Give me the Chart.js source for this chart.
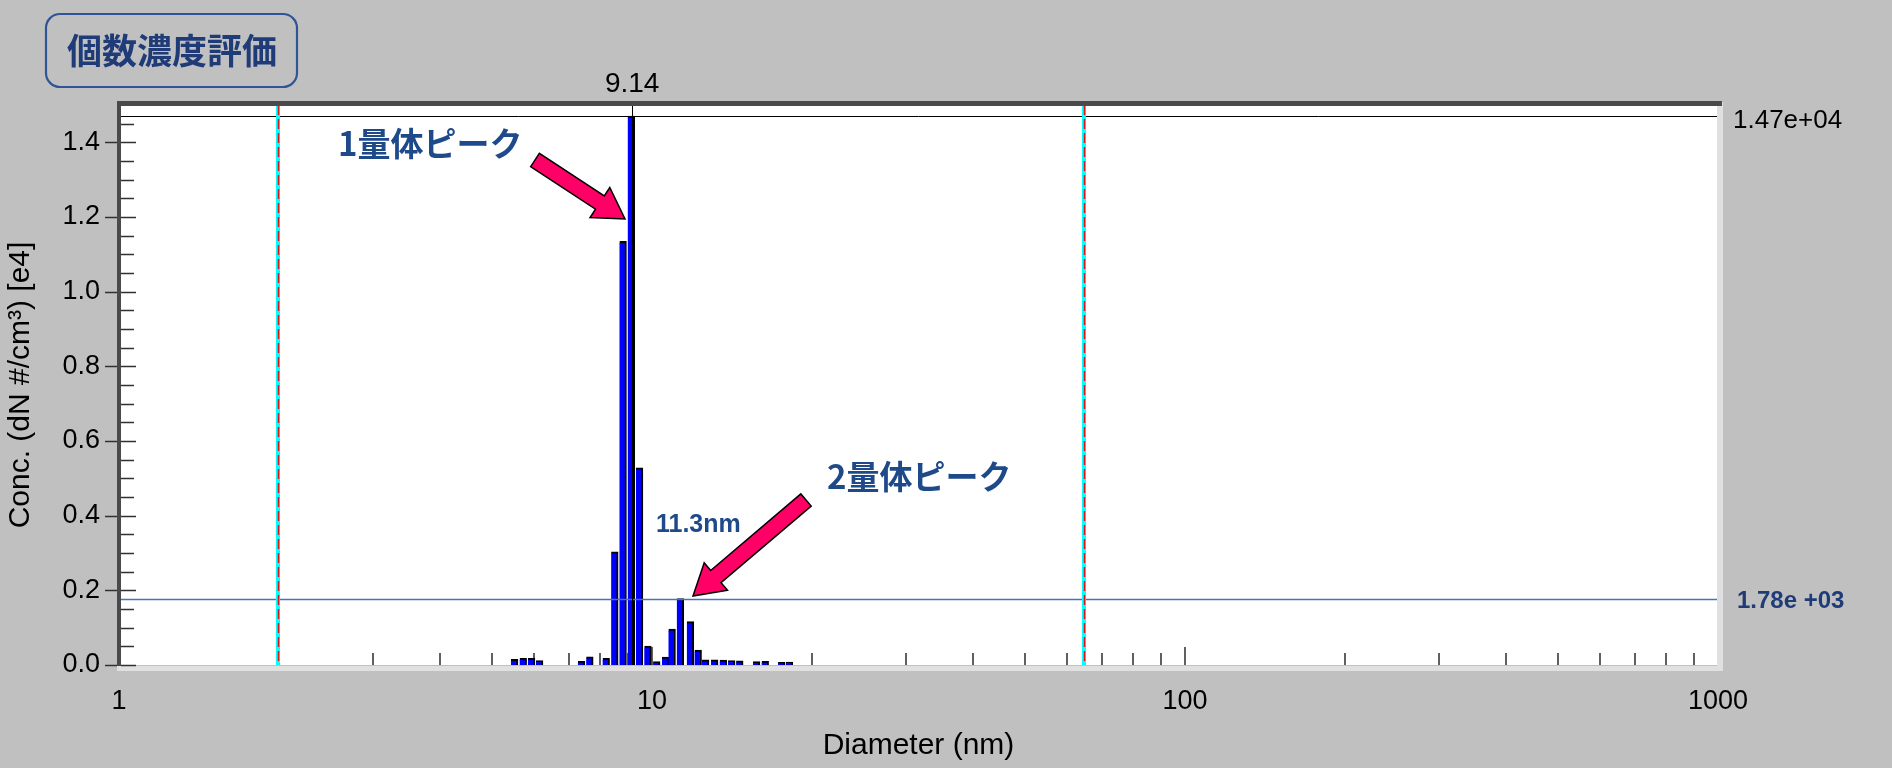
<!DOCTYPE html>
<html><head><meta charset="utf-8">
<script src="https://cdn.jsdelivr.net/npm/chart.js@4.4.1/dist/chart.umd.min.js"></script>
<style>html,body{margin:0;padding:0;background:#c0c0c0;overflow:hidden}canvas{display:block}</style>
</head><body>
<canvas id="c" width="1892" height="768"></canvas>
<script>
// ---- data ----
const diameters = [5.52,5.73,5.94,6.15,7.37,7.64,8.20,8.51,8.82,9.14,9.47,9.82,10.2,10.6,10.9,11.3,11.8,12.2,12.6,13.1,13.6,14.1,14.6,15.7,16.3,17.5,18.1];
const concE4    = [0.015,0.018,0.018,0.012,0.010,0.022,0.018,0.303,1.135,1.47,0.528,0.051,0.009,0.021,0.096,0.178,0.116,0.040,0.014,0.014,0.013,0.012,0.011,0.009,0.010,0.007,0.008];
const xTickLabels = [1,10,100,1000];
const xMinorTicks = [2,3,4,5,6,7,8,9,20,30,40,50,60,70,80,90,200,300,400,500,600,700,800,900];
const yTickValues = [0,0.2,0.4,0.6,0.8,1.0,1.2,1.4];
const yMinorTicks = [0.05,0.1,0.15,0.25,0.3,0.35,0.45,0.5,0.55,0.65,0.7,0.75,0.85,0.9,0.95,1.05,1.1,1.15,1.25,1.3,1.35,1.45];
const cursorDiameter = [9.14];
const rangeDiameters = [2.0, 65];
const peakLevel = [1.47];
const thresholdLevel = [0.178];
const peakLabel = ['9.14'];
const peakLevelLabel = ['1.47e+04'];
const thresholdLabel = ['1.78e +03'];

Chart.defaults.font.family = "'Liberation Sans', Arial, sans-serif";
Chart.defaults.color = '#000';

function arrow(ctx, x0, y0, x1, y1, shaftW, headW, headL) {
  const dx = x1 - x0, dy = y1 - y0, len = Math.hypot(dx, dy);
  const ux = dx / len, uy = dy / len, px = -uy, py = ux;
  const bx = x1 - ux * headL, by = y1 - uy * headL;
  const pts = [
    [x0 + px * shaftW / 2, y0 + py * shaftW / 2],
    [bx + px * shaftW / 2, by + py * shaftW / 2],
    [bx + px * headW / 2, by + py * headW / 2],
    [x1, y1],
    [bx - px * headW / 2, by - py * headW / 2],
    [bx - px * shaftW / 2, by - py * shaftW / 2],
    [x0 - px * shaftW / 2, y0 - py * shaftW / 2]
  ];
  ctx.beginPath();
  pts.forEach((p, i) => i ? ctx.lineTo(p[0], p[1]) : ctx.moveTo(p[0], p[1]));
  ctx.closePath();
  ctx.fillStyle = '#FF0066';
  ctx.fill();
  ctx.lineWidth = 1.5;
  ctx.strokeStyle = '#000';
  ctx.lineJoin = 'miter';
  ctx.stroke();
}

const decor = {
  id: 'decor',
  beforeDraw(chart) {
    const {ctx, chartArea: a} = chart;
    ctx.save();
    ctx.fillStyle = '#c0c0c0';
    ctx.fillRect(0, 0, chart.width, chart.height);
    ctx.fillStyle = '#fff';
    ctx.fillRect(a.left, a.top, a.right - a.left, a.bottom - a.top);
    ctx.restore();
  },
  beforeDatasetsDraw(chart) {
    const {ctx, chartArea: a, scales: {x}} = chart;
    ctx.save();
    ctx.strokeStyle = '#606060';
    ctx.lineWidth = 2;
    xMinorTicks.forEach(v => {
      const px = Math.round(x.getPixelForValue(v));
      ctx.beginPath(); ctx.moveTo(px, a.bottom); ctx.lineTo(px, a.bottom - 12); ctx.stroke();
    });
    [10, 100].forEach(v => {
      const px = Math.round(x.getPixelForValue(v));
      ctx.beginPath(); ctx.moveTo(px, a.bottom); ctx.lineTo(px, a.bottom - 18); ctx.stroke();
    });
    ctx.restore();
  },
  afterDatasetsDraw(chart) {
    const {ctx, chartArea: a, scales: {x, y}} = chart;
    ctx.save();
    peakLevel.forEach(v => {
      const py = Math.round(y.getPixelForValue(v)) + 0.5;
      ctx.strokeStyle = '#000'; ctx.lineWidth = 1;
      ctx.beginPath(); ctx.moveTo(a.left, py); ctx.lineTo(a.right, py); ctx.stroke();
    });
    thresholdLevel.forEach(v => {
      const py = Math.round(y.getPixelForValue(v)) + 0.5;
      ctx.strokeStyle = '#4472C4'; ctx.lineWidth = 1.3;
      ctx.beginPath(); ctx.moveTo(a.left, py); ctx.lineTo(a.right + 2, py); ctx.stroke();
    });
    cursorDiameter.forEach(v => {
      const px = Math.round(x.getPixelForValue(v)) + 1.5;
      ctx.strokeStyle = '#000'; ctx.lineWidth = 1;
      ctx.beginPath(); ctx.moveTo(px, a.top - 4); ctx.lineTo(px, a.bottom); ctx.stroke();
    });
    rangeDiameters.forEach(v => {
      const px = Math.round(x.getPixelForValue(v)) - 1;
      ctx.strokeStyle = '#00FFFF'; ctx.lineWidth = 4; ctx.setLineDash([]);
      ctx.beginPath(); ctx.moveTo(px, a.top); ctx.lineTo(px, a.bottom); ctx.stroke();
      ctx.strokeStyle = '#D81818'; ctx.lineWidth = 1.5; ctx.setLineDash([10, 4]);
      ctx.beginPath(); ctx.moveTo(px + 0.5, a.top); ctx.lineTo(px + 0.5, a.bottom); ctx.stroke();
      ctx.setLineDash([]);
    });
    ctx.restore();
  },
  afterDraw(chart) {
    const {ctx, chartArea: a, scales: {x, y}} = chart;
    ctx.save();
    ctx.fillStyle = '#e0e0e0';
    ctx.fillRect(a.right - 1, a.top - 3, 6, a.bottom - a.top + 9);
    ctx.fillRect(a.left - 2, a.bottom + 1, a.right - a.left + 7, 5);
    ctx.fillStyle = '#4a4a4a';
    ctx.fillRect(a.left - 2, a.top - 4, a.right - a.left + 6, 5);
    ctx.fillRect(a.left - 2, a.top - 4, 4, a.bottom - a.top + 5);
    ctx.strokeStyle = '#303030'; ctx.lineWidth = 1.5;
    yTickValues.forEach(v => {
      const py = Math.round(y.getPixelForValue(v)) + 0.5;
      ctx.beginPath(); ctx.moveTo(a.left - 14, py); ctx.lineTo(a.left - 2, py); ctx.stroke();
      ctx.beginPath(); ctx.moveTo(a.left + 2, py); ctx.lineTo(a.left + 17, py); ctx.stroke();
    });
    yMinorTicks.forEach(v => {
      const py = Math.round(y.getPixelForValue(v)) + 0.5;
      ctx.beginPath(); ctx.moveTo(a.left + 2, py); ctx.lineTo(a.left + 15, py); ctx.stroke();
    });
    ctx.textBaseline = 'middle';
    ctx.fillStyle = '#000';
    ctx.font = "28px 'Liberation Sans', Arial";
    ctx.textAlign = 'center';
    ctx.fillText(peakLabel[0], x.getPixelForValue(cursorDiameter[0]) + 1, 84);
    ctx.font = "26px 'Liberation Sans', Arial";
    ctx.textAlign = 'left';
    ctx.fillText(peakLevelLabel[0], 1733, y.getPixelForValue(peakLevel[0]) + 5);
    ctx.fillStyle = '#1F3C78';
    ctx.font = "bold 24px 'Liberation Sans', Arial";
    ctx.fillText(thresholdLabel[0], 1737, y.getPixelForValue(thresholdLevel[0]) + 3);
    ctx.fillStyle = '#1F4A8A';
    ctx.font = "bold 33px 'Noto Sans CJK JP', 'Liberation Sans'";
    ctx.fillText('1量体ピーク', 338, 143);
    ctx.fillText('2量体ピーク', 827, 476);
    ctx.font = "bold 25px 'Liberation Sans', Arial";
    ctx.fillText('11.3nm', 656, 525);
    arrow(ctx, 535, 160, 625, 219, 16, 36, 30);
    arrow(ctx, 806, 500, 693, 596, 16, 36, 30);
    ctx.beginPath();
    ctx.roundRect(46, 14, 251, 73, 14);
    ctx.lineWidth = 2.2; ctx.strokeStyle = '#2F5597'; ctx.stroke();
    ctx.fillStyle = '#1F3C78';
    ctx.font = "bold 35px 'Noto Sans CJK JP'";
    ctx.textAlign = 'center';
    ctx.fillText('個数濃度評価', 172, 51);
    ctx.restore();
  }
};

new Chart(document.getElementById('c'), {
  type: 'bar',
  data: {
    datasets: [{
      data: diameters.map((d, i) => ({x: d, y: concE4[i]})),
      backgroundColor: '#0000FF',
      borderColor: '#000000',
      borderWidth: {top: 2, right: 2, bottom: 0, left: 0},
      borderSkipped: false,
      barThickness: 7
    }]
  },
  options: {
    responsive: false,
    animation: false,
    devicePixelRatio: 1,
    layout: {padding: {top: 105, right: 174, left: 0, bottom: 0}},
    plugins: {legend: {display: false}, tooltip: {enabled: false}},
    scales: {
      x: {
        type: 'logarithmic', min: 1, max: 1000, offset: false,
        grid: {display: false, drawTicks: false, tickLength: 0},
        border: {display: false},
        ticks: {
          autoSkip: false, maxRotation: 0, padding: 20,
          font: {size: 27},
          callback: v => xTickLabels.includes(v) ? String(v) : ''
        },
        title: {display: true, text: 'Diameter (nm)', font: {size: 30}, padding: {top: 0, bottom: 4}},
        afterFit: s => { s.height = 103; }
      },
      y: {
        type: 'linear', min: 0, max: 1.5,
        grid: {display: false, drawTicks: false, tickLength: 0},
        border: {display: false},
        afterBuildTicks: s => { s.ticks = yTickValues.map(v => ({value: v})); },
        ticks: {padding: 19, font: {size: 27}, callback: v => Number(v).toFixed(1)},
        title: {display: true, text: 'Conc. (dN #/cm³) [e4]', font: {size: 30}, padding: {top: 3, bottom: 0}},
        afterFit: s => { s.width = 119; }
      }
    }
  },
  plugins: [decor]
});
</script>
</body></html>
